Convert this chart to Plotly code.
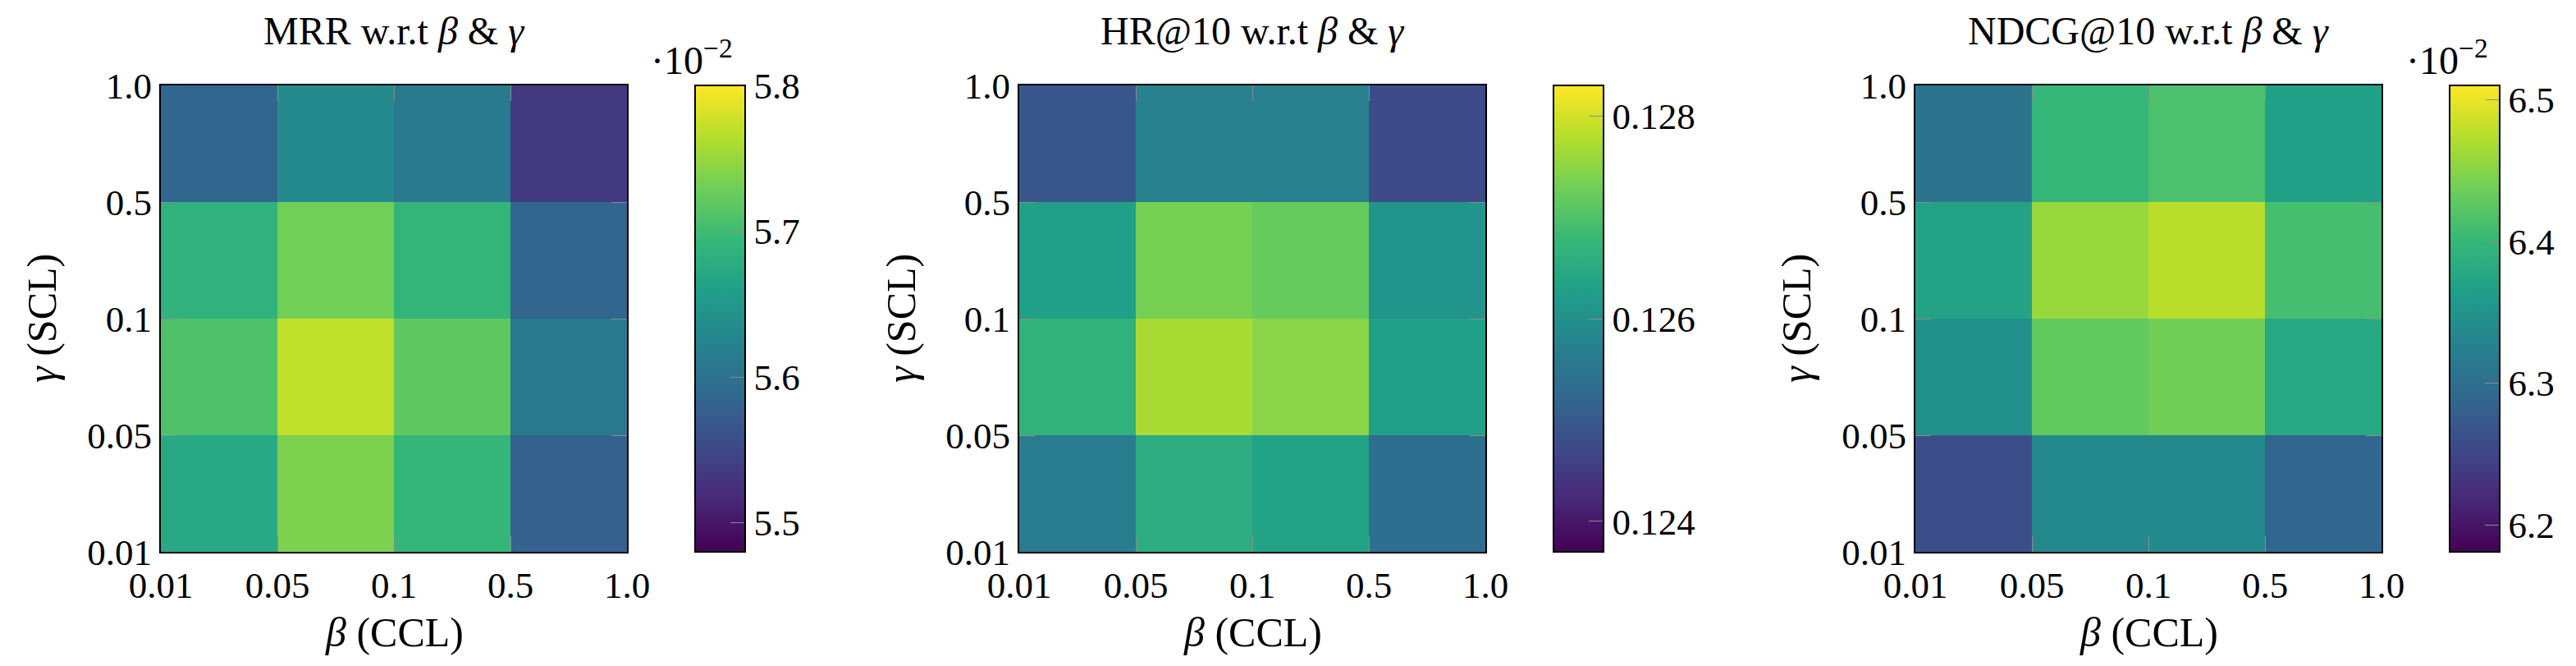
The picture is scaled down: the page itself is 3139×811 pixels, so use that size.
import plotly.graph_objects as go

W, H = 3139, 811

beta_labels = ["0.01", "0.05", "0.1", "0.5", "1.0"]
gamma_labels = ["0.01", "0.05", "0.1", "0.5", "1.0"]

# rows: gamma bins from bottom (0.01-0.05) to top (0.5-1.0); columns: beta bins left to right
mrr = [  # x 10^-2
    [5.672, 5.736, 5.691, 5.579],
    [5.709, 5.770, 5.720, 5.608],
    [5.685, 5.730, 5.690, 5.586],
    [5.586, 5.632, 5.611, 5.534],
]
hr = [
    [0.12563, 0.12655, 0.12635, 0.12536],
    [0.12667, 0.12770, 0.12747, 0.12630],
    [0.12630, 0.12733, 0.12720, 0.12609],
    [0.12494, 0.12572, 0.12572, 0.12476],
]
ndcg = [  # x 10^-2
    [6.260, 6.336, 6.336, 6.290],
    [6.346, 6.429, 6.438, 6.378],
    [6.370, 6.459, 6.475, 6.411],
    [6.306, 6.400, 6.415, 6.367],
]

titles = ["MRR w.r.t <i>β</i> & <i>γ</i>", "HR@10 w.r.t <i>β</i> & <i>γ</i>", "NDCG@10 w.r.t <i>β</i> & <i>γ</i>"]
cb_ticks = [[5.5, 5.6, 5.7, 5.8], [0.124, 0.126, 0.128], [6.2, 6.3, 6.4, 6.5]]
cb_ticktext = [["5.5", "5.6", "5.7", "5.8"], ["0.124", "0.126", "0.128"], ["6.2", "6.3", "6.4", "6.5"]]
cb_range = [(5.48, 5.80), (0.1237, 0.1283), (6.181, 6.510)]
multiplier = [True, False, True]

# layout (pixels)
plot_left = [196, 1242, 2334]
plot_w = 568
plot_top, plot_bot = 104, 672
cb_left = [847, 1893, 2985]
cb_w = 63
ytitle_x = [51, 1098, 2189]
mult_x = [843, None, 2982]

FONT = "Liberation Serif"
FS_TICK = 45
FS_TITLE = 48
FS_AXIS = 50

fig = go.Figure()
annotations = []
datasets = [mrr, hr, ndcg]
for i, z in enumerate(datasets):
    xs = [k + 0.5 for k in range(len(beta_labels) - 1)]
    ys = [k + 0.5 for k in range(len(gamma_labels) - 1)]
    xa = "x" if i == 0 else f"x{i+1}"
    ya = "y" if i == 0 else f"y{i+1}"
    fig.add_trace(go.Heatmap(
        x=xs, y=ys, z=z, xaxis=xa, yaxis=ya,
        colorscale="Viridis", zmin=cb_range[i][0], zmax=cb_range[i][1],
        hoverinfo="skip",
        colorbar=dict(
            x=cb_left[i] / W, xanchor="left", xpad=0,
            y=1 - plot_top / H, yanchor="top", ypad=0,
            lenmode="pixels", len=plot_bot - plot_top,
            thicknessmode="pixels", thickness=cb_w - 2,
            outlinecolor="black", outlinewidth=2,
            tickvals=cb_ticks[i], ticktext=cb_ticktext[i],
            ticks="inside", ticklen=19, tickcolor="#8c8c8c", tickwidth=1,
            tickfont=dict(family=FONT, size=FS_TICK, color="black"),
        ),
    ))
    x0 = plot_left[i] / W
    x1 = (plot_left[i] + plot_w) / W
    common = dict(
        range=[0, len(beta_labels) - 1], showgrid=False, zeroline=False,
        showline=True, linecolor="black", linewidth=2, mirror="ticks",
        ticks="inside", ticklen=19, tickcolor="#8c8c8c", tickwidth=1,
        tickfont=dict(family=FONT, size=FS_TICK, color="black"),
        fixedrange=True, automargin=False,
    )
    fig.layout[("xaxis" if i == 0 else f"xaxis{i+1}")] = dict(
        domain=[x0, x1], anchor=ya,
        tickvals=list(range(len(beta_labels))), ticktext=beta_labels, **common)
    fig.layout[("yaxis" if i == 0 else f"yaxis{i+1}")] = dict(
        domain=[1 - plot_bot / H, 1 - plot_top / H], anchor=xa,
        tickvals=list(range(len(gamma_labels))), ticktext=gamma_labels, **common)

    cx = (plot_left[i] + plot_w / 2) / W
    annotations.append(dict(text=titles[i], x=cx, y=1 - 37 / H, xref="paper", yref="paper",
                            xanchor="center", yanchor="middle", showarrow=False,
                            font=dict(family=FONT, size=FS_TITLE, color="black")))
    annotations.append(dict(text="<i>β</i> (CCL)", x=cx, y=1 - 770 / H, xref="paper", yref="paper",
                            xanchor="center", yanchor="middle", showarrow=False,
                            font=dict(family=FONT, size=FS_AXIS, color="black")))
    annotations.append(dict(text="<i>γ</i> (SCL)", x=ytitle_x[i] / W, y=1 - ((plot_top + plot_bot) / 2) / H,
                            xref="paper", yref="paper", textangle=-90,
                            xanchor="center", yanchor="middle", showarrow=False,
                            font=dict(family=FONT, size=FS_AXIS, color="black")))
    if multiplier[i]:
        annotations.append(dict(text="·10<sup>−2</sup>", x=mult_x[i] / W, y=1 - 70 / H,
                                xref="paper", yref="paper", xanchor="center", yanchor="middle",
                                showarrow=False, font=dict(family=FONT, size=FS_TITLE, color="black")))

fig.update_layout(
    width=W, height=H, autosize=False,
    margin=dict(l=0, r=0, t=0, b=0, autoexpand=False),
    paper_bgcolor="white", plot_bgcolor="white",
    annotations=annotations,
    showlegend=False,
)

fig.write_html("out.html")
